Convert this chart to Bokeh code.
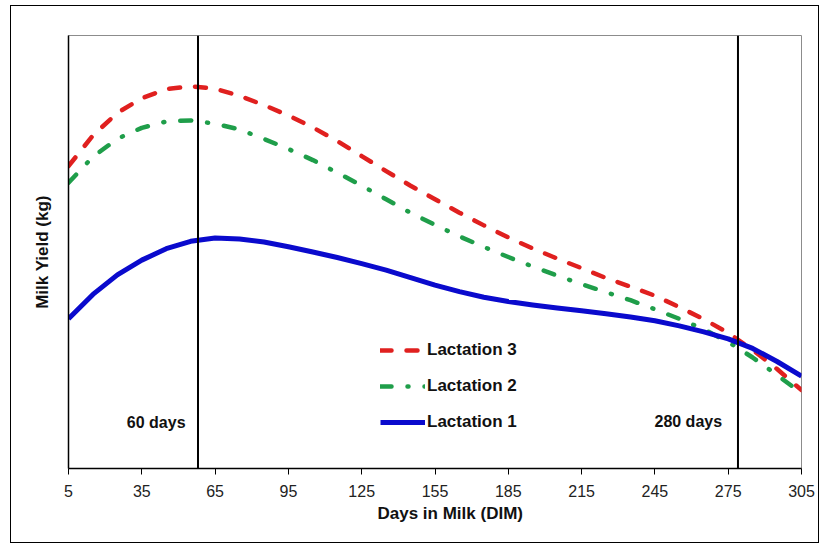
from bokeh.plotting import figure
from bokeh.models import Span, Label, Legend, LegendItem, FixedTicker, Range1d, Title
from bokeh.embed import file_html
from bokeh.resources import INLINE

# Days in milk (DIM)
days = list(range(5, 306, 10))
# Milk yield (kg)
lact3 = [30.1, 33.15, 35.4, 36.85, 37.77, 38.05, 37.8, 37.1, 36.17, 35.14, 33.95, 32.6,
         31.1, 29.6, 28.15, 26.8, 25.46, 24.2, 23.0, 21.9, 20.9, 19.94, 18.96, 18.1,
         17.2, 16.06, 14.86, 13.5, 11.8, 9.9, 7.8]
lact2 = [28.45, 31.03, 32.82, 33.91, 34.54, 34.65, 34.32, 33.75, 32.8, 31.8, 30.7, 29.45,
         28.15, 26.8, 25.45, 24.25, 23.1, 22.05, 21.05, 20.1, 19.2, 18.35, 17.55, 16.75,
         15.85, 14.9, 13.85, 12.6, 11.05, 9.3, 7.5]
lact1 = [14.9, 17.33, 19.27, 20.74, 21.88, 22.61, 22.95, 22.85, 22.55, 22.07, 21.55, 21.0,
         20.4, 19.75, 19.0, 18.25, 17.6, 17.05, 16.62, 16.28, 15.98, 15.7, 15.4, 15.07,
         14.7, 14.2, 13.6, 12.9, 11.95, 10.65, 9.2]
series_names = ["Lactation 3", "Lactation 2", "Lactation 1"]
x_ticks = list(range(5, 306, 30))
vline_days = [58, 279]
vline_labels = ["60 days", "280 days"]

FONT = "Liberation Sans"

p = figure(width=809, height=538, x_range=Range1d(5, 305), y_range=Range1d(0, 43.1),
           output_backend="svg", toolbar_location=None,
           min_border_left=57, min_border_right=19, min_border_top=29, min_border_bottom=76,
           styles={"border": "1px solid black", "margin-left": "10px", "margin-top": "5px"})
p.background_fill_color = "white"
p.border_fill_color = "white"
p.outline_line_color = "#8c8c8c"
p.outline_line_width = 1
p.xgrid.visible = False
p.ygrid.visible = False

p.xaxis.ticker = FixedTicker(ticks=x_ticks)
p.xaxis.minor_tick_line_color = None
p.xaxis.major_tick_in = 0
p.xaxis.major_tick_out = 6
p.xaxis.major_tick_line_color = "black"
p.xaxis.axis_line_color = "black"
p.xaxis.axis_line_width = 1.5
p.xaxis.major_label_text_font = FONT
p.xaxis.major_label_text_font_size = "16px"
p.xaxis.major_label_text_color = "#222222"
p.xaxis.major_label_standoff = 10

p.yaxis.ticker = FixedTicker(ticks=[])
p.yaxis.major_tick_line_color = None
p.yaxis.minor_tick_line_color = None
p.yaxis.axis_line_color = "black"
p.yaxis.axis_line_width = 1.5
p.yaxis.axis_label = "Milk Yield (kg)"
p.yaxis.axis_label_text_font = FONT
p.yaxis.axis_label_text_font_style = "bold"
p.yaxis.axis_label_text_font_size = "17px"
p.yaxis.axis_label_text_color = "#111111"
p.yaxis.axis_label_standoff = 17

xtitle = Title(text="Days in Milk (DIM)", align="left", offset=309, standoff=4,
               text_font=FONT, text_font_style="bold", text_font_size="17px", text_color="#111111")
p.add_layout(xtitle, "below")

for d in vline_days:
    p.add_layout(Span(location=d, dimension="height", line_color="black", line_width=2))

r3 = p.line(days, lact3, line_color="#e0201f", line_width=4.5, line_dash="11 15",
            line_cap="round", line_join="round")
r2 = p.line(days, lact2, line_color="#1f9e4a", line_width=4.5, line_dash="11 16 1 16",
            line_cap="round", line_join="round")
r1 = p.line(days, lact1, line_color="#0a0acd", line_width=5, line_join="round")

legend = Legend(items=[LegendItem(label=series_names[0], renderers=[r3]),
                       LegendItem(label=series_names[1], renderers=[r2]),
                       LegendItem(label=series_names[2], renderers=[r1])],
                location=(312, 36), orientation="vertical",
                glyph_width=45, glyph_height=20, label_height=20, spacing=16,
                padding=0, margin=0, border_line_color=None, background_fill_alpha=0,
                label_text_font=FONT, label_text_font_style="bold",
                label_text_font_size="17px", label_standoff=2, label_text_color="#111111")
p.add_layout(legend)

p.add_layout(Label(x=52.9, y=4.6, text=vline_labels[0], text_align="right", text_baseline="middle",
                   text_font=FONT, text_font_style="bold", text_font_size="16px", text_color="#111111"))
p.add_layout(Label(x=272.5, y=4.7, text=vline_labels[1], text_align="right", text_baseline="middle",
                   text_font=FONT, text_font_style="bold", text_font_size="16px", text_color="#111111"))

open("out.html", "w").write(file_html(p, INLINE))
